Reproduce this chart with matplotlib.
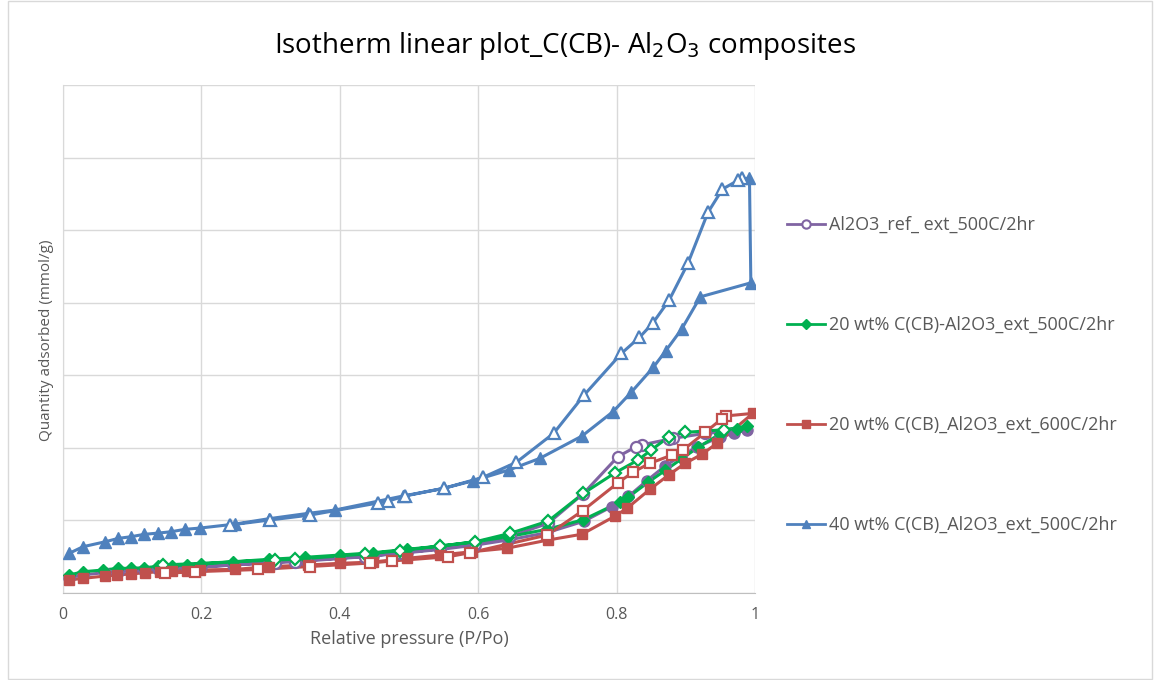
import matplotlib
matplotlib.use("Agg")
import matplotlib.pyplot as plt
from matplotlib.lines import Line2D
from matplotlib.patches import Rectangle

plt.rcParams['font.family'] = ['Open Sans', 'DejaVu Sans']

# ---------------- data ----------------
title = 'Isotherm linear plot_C(CB)- Al$_2$O$_3$ composites'
xlabel = 'Relative pressure (P/Po)'
ylabel = 'Quantity adsorbed (mmol/g)'
x_ticks = [0, 0.2, 0.4, 0.6, 0.8, 1.0]
x_tick_labels = ['0', '0.2', '0.4', '0.6', '0.8', '1']

labels = ['Al2O3_ref_ ext_500C/2hr',
          '20 wt% C(CB)-Al2O3_ext_500C/2hr',
          '20 wt% C(CB)_Al2O3_ext_600C/2hr',
          '40 wt% C(CB)_Al2O3_ext_500C/2hr']

# Al2O3 reference
ref_ads_x = [0.009, 0.029, 0.060, 0.080, 0.098, 0.117, 0.138, 0.157, 0.179, 0.200,
             0.246, 0.297, 0.350, 0.400, 0.448, 0.497, 0.545, 0.596, 0.643, 0.699,
             0.753, 0.793, 0.817, 0.844, 0.870, 0.893, 0.916, 0.949, 0.969, 0.988]
ref_ads_y = [0.21, 0.25, 0.28, 0.295, 0.305, 0.315, 0.33, 0.34, 0.35, 0.36,
             0.385, 0.42, 0.45, 0.48, 0.515, 0.555, 0.60, 0.66, 0.73, 0.83,
             0.99, 1.19, 1.33, 1.55, 1.75, 1.89, 2.01, 2.15, 2.20, 2.245]
ref_des_x = [0.928, 0.881, 0.876, 0.836, 0.828, 0.802, 0.752, 0.701, 0.646, 0.596,
             0.545, 0.487, 0.436, 0.335, 0.306, 0.145]
ref_des_y = [2.20, 2.13, 2.12, 2.04, 2.015, 1.88, 1.37, 0.96, 0.78, 0.68,
             0.61, 0.55, 0.50, 0.43, 0.42, 0.33]

# 20 wt% C(CB)-Al2O3 500C
g_ads_x = [0.009, 0.029, 0.058, 0.080, 0.098, 0.117, 0.138, 0.157, 0.179, 0.200,
           0.246, 0.297, 0.350, 0.400, 0.448, 0.497, 0.545, 0.596, 0.643, 0.699,
           0.752, 0.805, 0.817, 0.846, 0.870, 0.894, 0.918, 0.950, 0.974, 0.988]
g_ads_y = [0.248, 0.293, 0.317, 0.340, 0.340, 0.348, 0.368, 0.376, 0.386, 0.399,
           0.431, 0.464, 0.492, 0.523, 0.555, 0.602, 0.647, 0.706, 0.775, 0.876,
           1.01, 1.253, 1.322, 1.529, 1.688, 1.849, 2.009, 2.194, 2.263, 2.295]
g_des_x = [0.955, 0.899, 0.876, 0.850, 0.831, 0.798, 0.752, 0.701, 0.646, 0.596,
           0.545, 0.487, 0.436, 0.335, 0.306, 0.145]
g_des_y = [2.25, 2.213, 2.156, 1.970, 1.832, 1.657, 1.373, 0.99, 0.822, 0.706,
           0.647, 0.583, 0.537, 0.464, 0.455, 0.386]

# 20 wt% C(CB)_Al2O3 600C
r_ads_x = [0.009, 0.029, 0.061, 0.078, 0.098, 0.119, 0.140, 0.157, 0.179, 0.198,
           0.249, 0.297, 0.354, 0.400, 0.448, 0.497, 0.545, 0.591, 0.641, 0.701,
           0.750, 0.798, 0.815, 0.848, 0.875, 0.899, 0.923, 0.945, 0.997]
r_ads_y = [0.179, 0.202, 0.234, 0.248, 0.262, 0.280, 0.293, 0.303, 0.307, 0.317,
           0.326, 0.362, 0.386, 0.409, 0.427, 0.478, 0.523, 0.569, 0.616, 0.730,
           0.81, 1.061, 1.167, 1.428, 1.625, 1.787, 1.910, 2.062, 2.475]
r_des_x = [0.958, 0.952, 0.928, 0.896, 0.880, 0.848, 0.824, 0.802, 0.751, 0.700,
           0.588, 0.557, 0.475, 0.444, 0.357, 0.282, 0.191, 0.147]
r_des_y = [2.44, 2.40, 2.213, 1.970, 1.901, 1.787, 1.667, 1.519, 1.134, 0.799,
           0.555, 0.500, 0.441, 0.413, 0.365, 0.324, 0.293, 0.271]

# 40 wt% C(CB)_Al2O3 500C
b_ads_x = [0.009, 0.029, 0.061, 0.080, 0.098, 0.117, 0.138, 0.156, 0.176, 0.198,
           0.249, 0.297, 0.354, 0.393, 0.491, 0.550, 0.593, 0.644, 0.689, 0.750,
           0.795, 0.821, 0.853, 0.871, 0.894, 0.921, 0.994, 0.992]
b_ads_y = [0.547, 0.638, 0.706, 0.753, 0.775, 0.808, 0.826, 0.844, 0.877, 0.895,
           0.950, 1.023, 1.097, 1.143, 1.336, 1.442, 1.547, 1.694, 1.855, 2.163,
           2.500, 2.764, 3.109, 3.337, 3.636, 4.081, 4.274, 5.712]
b_des_x = [0.981, 0.976, 0.953, 0.932, 0.903, 0.876, 0.852, 0.833, 0.807, 0.753,
           0.709, 0.655, 0.607, 0.550, 0.494, 0.470, 0.455, 0.357, 0.299, 0.241]
b_des_y = [5.712, 5.689, 5.565, 5.244, 4.541, 4.036, 3.715, 3.522, 3.302, 2.727,
           2.200, 1.800, 1.594, 1.442, 1.336, 1.267, 1.240, 1.074, 1.006, 0.937]

colors = ['#8064A2', '#00B050', '#C0504D', '#4F81BD']
markers = ['o', 'D', 's', '^']
msizes = [8, 6, 7.5, 8.5]

series = [(ref_ads_x, ref_ads_y, ref_des_x, ref_des_y),
          (g_ads_x, g_ads_y, g_des_x, g_des_y),
          (r_ads_x, r_ads_y, r_des_x, r_des_y),
          (b_ads_x, b_ads_y, b_des_x, b_des_y)]

# ---------------- figure ----------------
W, H = 1154, 680
fig = plt.figure(figsize=(W / 100, H / 100), dpi=100)
fig.patches.append(Rectangle((8 / W, 0.002), 1 - 10 / W, 0.996, transform=fig.transFigure,
                             fill=False, edgecolor='#D9D9D9', linewidth=1))

ax = fig.add_axes([63 / W, 87 / H, 692 / W, 508 / H])

for (ax_x, ax_y, dx, dy), c, m, ms in zip(series, colors, markers, msizes):
    ax.plot(list(ax_x) + list(dx), list(ax_y) + list(dy), color=c, lw=2.2,
            solid_joinstyle='round', zorder=2)
    ax.plot(ax_x, ax_y, ls='none', marker=m, ms=ms, color=c, mec=c, zorder=3)
    ax.plot(dx, dy, ls='none', marker=m, ms=ms, mfc='white', mec=c, mew=1.6, zorder=3)

ax.set_xlim(0, 1)
ax.set_ylim(0, 7)
ax.set_xticks(x_ticks)
ax.set_xticklabels(x_tick_labels)
ax.set_yticks(range(0, 8))
ax.set_yticklabels([])
ax.grid(True, color='#D9D9D9', lw=1)
ax.set_axisbelow(True)
ax.tick_params(length=0, labelsize=11.5, labelcolor='#595959', pad=10)
for s in ['top', 'right']:
    ax.spines[s].set_visible(False)
ax.spines['left'].set_color('#D9D9D9')
ax.spines['bottom'].set_color('#BFBFBF')

ax.set_xlabel(xlabel, fontsize=13, color='#595959', labelpad=5)
fig.text(47 / W, 1 - 340 / H, ylabel, rotation=90, ha='center', va='center',
         fontsize=11, color='#595959')

fig.text(565 / W, 1 - 46 / H, title, ha='center', va='center', fontsize=20, color='#000000')

handles = []
for c, m, i in zip(colors, markers, range(4)):
    if i == 0:
        handles.append(Line2D([], [], color=c, lw=2, marker=m, ms=6, mfc='white', mec=c, mew=1.5))
    else:
        handles.append(Line2D([], [], color=c, lw=2, marker=m, ms=6 if m != 'D' else 5, mfc=c, mec=c))
fig.legend(handles, labels, loc='upper left', bbox_to_anchor=(780 / W, 1 - 209 / H),
           frameon=False, fontsize=13, labelcolor='#595959', handlelength=2.1,
           handletextpad=0.2, labelspacing=4.54, borderaxespad=0)

fig.savefig('out.png', dpi=100)
